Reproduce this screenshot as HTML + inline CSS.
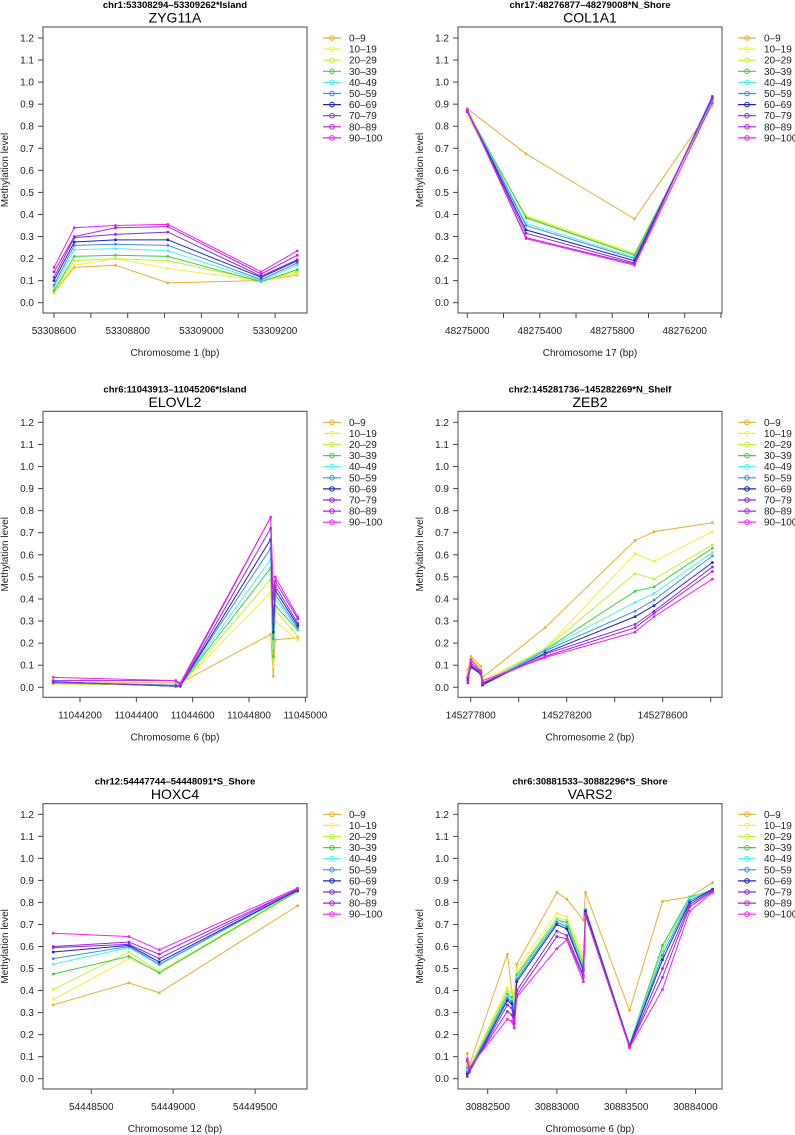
<!DOCTYPE html>
<html><head><meta charset="utf-8">
<style>
html,body{margin:0;padding:0;background:#fff;}
svg{display:block;font-family:"Liberation Sans",Arial,sans-serif;}
</style></head>
<body>
<svg id="chart" width="795" height="1135" viewBox="0 0 795 1135" xmlns="http://www.w3.org/2000/svg"></svg>
<script>
const seriesNames = ["0–9","10–19","20–29","30–39","40–49","50–59","60–69","70–79","80–89","90–100"];
const seriesColors = ["#E8B030","#F0F040","#C0F040","#40D040","#50F0F0","#4090E0","#2020C0","#8030E0","#B020E0","#F020F0"];
const yTicks = [0,0.1,0.2,0.3,0.4,0.5,0.6,0.7,0.8,0.9,1.0,1.1,1.2];

// Panel 1 ZYG11A
const p1X = [53308600,53308655,53308767,53308909,53309162,53309260];
const p1Y = [
[0.045,0.16,0.17,0.09,0.10,0.125],
[0.05,0.17,0.20,0.155,0.10,0.13],
[0.055,0.19,0.20,0.19,0.10,0.14],
[0.055,0.21,0.215,0.21,0.095,0.15],
[0.07,0.24,0.245,0.235,0.10,0.17],
[0.08,0.26,0.265,0.26,0.105,0.18],
[0.10,0.275,0.285,0.285,0.115,0.19],
[0.115,0.295,0.31,0.32,0.12,0.195],
[0.14,0.30,0.34,0.345,0.13,0.215],
[0.16,0.34,0.35,0.355,0.14,0.235]];
const p1Ticks = [53308600,53308800,53309000,53309200];
const p1Minor = [53308700,53308900,53309100];

// Panel 2 COL1A1
const p2X = [48275000,48275324,48275923,48276352];
const p2Y = [
[0.88,0.675,0.38,0.89],
[0.845,0.395,0.225,0.895],
[0.865,0.39,0.22,0.90],
[0.87,0.385,0.215,0.91],
[0.87,0.36,0.205,0.915],
[0.87,0.35,0.20,0.92],
[0.87,0.33,0.19,0.93],
[0.865,0.315,0.18,0.935],
[0.87,0.295,0.175,0.935],
[0.875,0.29,0.17,0.905]];
const p2Ticks = [48275000,48275400,48275800,48276200];
const p2Minor = [48275200,48275600,48276000,48276400];

// Panel 3 ELOVL2
const p3X = [11044105,11044540,11044556,11044877,11044886,11044893,11044973];
const p3Y = [
[0.02,0.02,0.02,0.24,0.05,0.215,0.225],
[0.015,0.01,0.01,0.43,0.09,0.30,0.215],
[0.015,0.01,0.01,0.49,0.12,0.35,0.23],
[0.02,0.01,0.01,0.54,0.14,0.37,0.26],
[0.02,0.01,0.01,0.58,0.18,0.40,0.265],
[0.02,0.01,0.01,0.63,0.22,0.42,0.27],
[0.025,0.005,0.005,0.67,0.25,0.44,0.28],
[0.025,0.005,0.005,0.72,0.30,0.46,0.29],
[0.03,0.03,0.01,0.77,0.40,0.48,0.31],
[0.045,0.03,0.02,0.77,0.44,0.50,0.32]];
const p3Ticks = [11044200,11044400,11044600,11044800,11045000];
const p3Minor = [];

// Panel 4 ZEB2
const p4X = [145277788,145277801,145277842,145277849,145278110,145278485,145278564,145278807];
const p4Y = [
[0.08,0.14,0.095,0.045,0.27,0.665,0.705,0.745],
[0.07,0.13,0.085,0.03,0.175,0.605,0.57,0.705],
[0.06,0.12,0.075,0.02,0.175,0.515,0.49,0.645],
[0.05,0.09,0.07,0.015,0.17,0.435,0.455,0.63],
[0.05,0.09,0.065,0.015,0.17,0.385,0.425,0.61],
[0.045,0.09,0.06,0.01,0.165,0.345,0.395,0.595],
[0.04,0.095,0.06,0.01,0.155,0.32,0.37,0.565],
[0.03,0.10,0.065,0.015,0.15,0.285,0.345,0.545],
[0.02,0.11,0.07,0.02,0.14,0.27,0.335,0.525],
[0.05,0.125,0.075,0.03,0.135,0.25,0.32,0.49]];
const p4Ticks = [145277800,145278200,145278600];
const p4Minor = [145278000,145278400,145278800];

// Panel 5 HOXC4
const p5X = [54448268,54448730,54448915,54449759];
const p5Y = [
[0.335,0.435,0.39,0.785],
[0.36,0.545,0.485,0.855],
[0.405,0.575,0.485,0.85],
[0.475,0.555,0.48,0.85],
[0.52,0.595,0.515,0.855],
[0.545,0.60,0.52,0.855],
[0.575,0.605,0.53,0.855],
[0.595,0.61,0.545,0.86],
[0.60,0.62,0.565,0.86],
[0.66,0.645,0.585,0.865]];
const p5Ticks = [54448500,54449000,54449500];
const p5Minor = [];

// Panel 6 VARS2
const p6X = [30882352,30882367,30882642,30882674,30882692,30882710,30882999,30883071,30883191,30883206,30883524,30883762,30883958,30884124];
const p6Y = [
[0.115,0.06,0.565,0.40,0.38,0.52,0.845,0.815,0.72,0.845,0.31,0.805,0.825,0.89],
[0.07,0.05,0.415,0.40,0.36,0.50,0.75,0.735,0.56,0.77,0.155,0.58,0.825,0.855],
[0.06,0.05,0.40,0.39,0.34,0.48,0.73,0.72,0.54,0.77,0.155,0.60,0.825,0.855],
[0.05,0.04,0.385,0.37,0.32,0.47,0.72,0.71,0.52,0.77,0.155,0.605,0.825,0.855],
[0.04,0.04,0.375,0.36,0.30,0.46,0.72,0.70,0.50,0.77,0.155,0.58,0.82,0.86],
[0.03,0.04,0.365,0.35,0.29,0.45,0.71,0.69,0.50,0.765,0.15,0.56,0.81,0.86],
[0.02,0.03,0.355,0.34,0.28,0.44,0.70,0.68,0.49,0.76,0.15,0.54,0.80,0.86],
[0.01,0.03,0.335,0.32,0.26,0.40,0.67,0.65,0.47,0.75,0.145,0.50,0.79,0.855],
[0.08,0.04,0.305,0.29,0.25,0.38,0.645,0.635,0.46,0.745,0.145,0.46,0.78,0.85],
[0.09,0.05,0.27,0.26,0.23,0.37,0.59,0.63,0.44,0.74,0.14,0.405,0.76,0.845]];
const p6Ticks = [30882500,30883000,30883500,30884000];
const p6Minor = [];

const panels = [
 {id:"zyg11a",region:"chr1:53308294\u201353309262*Island",gene:"ZYG11A",xlab:"Chromosome 1 (bp)",X:p1X,Y:p1Y,ticks:p1Ticks,minor:p1Minor,
  box:[43,27,307,313],y0:302.7,y12:38,refBp:53308600,refPx:54,scale:0.3685},
 {id:"col1a1",region:"chr17:48276877\u201348279008*N_Shore",gene:"COL1A1",xlab:"Chromosome 17 (bp)",X:p2X,Y:p2Y,ticks:p2Ticks,minor:p2Minor,
  box:[458,27,722,313],y0:302.7,y12:38,refBp:48275000,refPx:467.3,scale:0.1812},
 {id:"elovl2",region:"chr6:11043913\u201311045206*Island",gene:"ELOVL2",xlab:"Chromosome 6 (bp)",X:p3X,Y:p3Y,ticks:p3Ticks,minor:p3Minor,
  box:[43,411.3,307,697.3],y0:687.3,y12:422.3,refBp:11044200,refPx:80,scale:0.2817},
 {id:"zeb2",region:"chr2:145281736\u2013145282269*N_Shelf",gene:"ZEB2",xlab:"Chromosome 2 (bp)",X:p4X,Y:p4Y,ticks:p4Ticks,minor:p4Minor,
  box:[458,411.3,722,697.3],y0:687.3,y12:422.3,refBp:145277800,refPx:470.7,scale:0.24},
 {id:"hoxc4",region:"chr12:54447744\u201354448091*S_Shore",gene:"HOXC4",xlab:"Chromosome 12 (bp)",X:p5X,Y:p5Y,ticks:p5Ticks,minor:p5Minor,
  box:[43,803.7,307,1089],y0:1078.7,y12:814.3,refBp:54448500,refPx:91.3,scale:0.1638},
 {id:"vars2",region:"chr6:30881533\u201330882296*S_Shore",gene:"VARS2",xlab:"Chromosome 6 (bp)",X:p6X,Y:p6Y,ticks:p6Ticks,minor:p6Minor,
  box:[458,803.7,722,1089],y0:1078.7,y12:814.3,refBp:30882500,refPx:487.7,scale:0.1385}
];

const NS = "http://www.w3.org/2000/svg";
const svg = document.getElementById("chart");
function mk(tag, attrs, parent, text){
  const e = document.createElementNS(NS, tag);
  for (const k in attrs) e.setAttribute(k, attrs[k]);
  if (text !== undefined) e.textContent = text;
  (parent||svg).appendChild(e);
  return e;
}

panels.forEach(p => {
  const g = mk("g", {});
  
  
  const [bx0,by0,bx1,by1] = p.box;
  const xS = v => p.refPx + (v - p.refBp) * p.scale;
  const yS = v => p.y0 - v * (p.y0 - p.y12) / 1.2;
  const cx = (bx0 + bx1) / 2;

  const t1 = mk("text", {x:cx, y:by0-19, "text-anchor":"middle", "font-size":"9.5", "font-weight":"bold", fill:"#000"}, g, p.region);
  
  
  const t2 = mk("text", {x:cx, y:by0-4.5, "text-anchor":"middle", "font-size":"14", fill:"#000"}, g, p.gene);
  
  

  const box = mk("rect", {x:bx0, y:by0, width:bx1-bx0, height:by1-by0, fill:"none", stroke:"#444", "stroke-width":"1"}, g);
  
  

  // y axis
  const ya = mk("g", {}, g);
  
  
  yTicks.forEach(v => {
    const y = yS(v);
    mk("line", {x1:bx0-5, x2:bx0, y1:y, y2:y, stroke:"#444", "stroke-width":"1"}, ya);
    const tl = mk("text", {x:bx0-9, y:y+3.5, "text-anchor":"end", "font-size":"10", fill:"#222"}, ya, v.toFixed(1));
    
    
  });
  const yt = mk("text", {x:0, y:0, transform:`translate(${bx0-35},${(by0+by1)/2}) rotate(-90)`, "text-anchor":"middle", "font-size":"10", fill:"#222"}, g, "Methylation level");
  
  

  // x axis
  const xa = mk("g", {}, g);
  
  
  p.ticks.forEach(v => {
    const x = xS(v);
    mk("line", {x1:x, x2:x, y1:by1, y2:by1+5, stroke:"#444", "stroke-width":"1"}, xa);
    const tl = mk("text", {x:x, y:by1+21, "text-anchor":"middle", "font-size":"10", fill:"#222"}, xa, String(v));
    
    
  });
  p.minor.forEach(v => {
    const x = xS(v);
    if (x <= bx1 + 0.5) mk("line", {x1:x, x2:x, y1:by1, y2:by1+5, stroke:"#444", "stroke-width":"1"}, xa);
  });
  const xt = mk("text", {x:cx, y:by1+43, "text-anchor":"middle", "font-size":"10", fill:"#222"}, g, p.xlab);
  
  

  // series
  p.Y.forEach((vals, si) => {
    const sg = mk("g", {}, g);
    
    
    const pts = vals.map((v, i) => xS(p.X[i]).toFixed(2) + "," + yS(v).toFixed(2)).join(" ");
    mk("polyline", {points:pts, fill:"none", stroke:seriesColors[si], "stroke-width":"1"}, sg);
    vals.forEach((v, i) => {
      const c = mk("circle", {cx:xS(p.X[i]), cy:yS(v), r:"1.4", fill:seriesColors[si]}, sg);
      
      
    });
  });

  // legend
  const lg = mk("g", {}, g);
  
  
  const lx = bx1 + 16, ly = yS(1.2);
  seriesNames.forEach((n, i) => {
    const y = ly + i * 11.1;
    const le = mk("g", {}, lg);
    
    
    mk("line", {x1:lx, x2:lx+18, y1:y, y2:y, stroke:seriesColors[i], "stroke-width":"1.2"}, le);
    mk("circle", {cx:lx+9, cy:y, r:"2.3", fill:"none", stroke:seriesColors[i], "stroke-width":"1"}, le);
    mk("text", {x:lx+26, y:y+3.5, "font-size":"10", fill:"#222"}, le, n);
  });
});
</script>
</body></html>
